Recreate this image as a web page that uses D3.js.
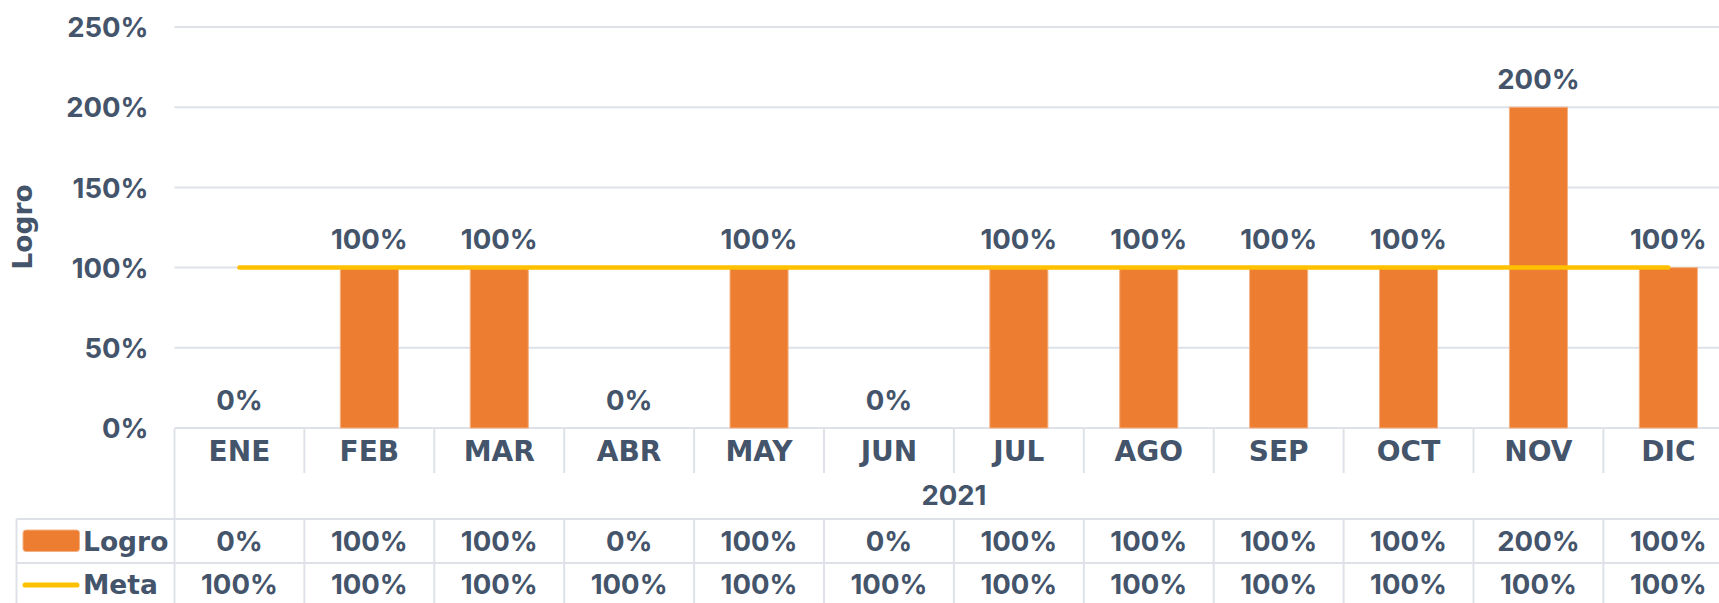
<!DOCTYPE html>
<html>
<head>
<meta charset="utf-8">
<script src="https://cdn.jsdelivr.net/npm/d3@7"></script>
<style>
  html, body { margin: 0; padding: 0; background: #fff; }
  svg { display: block; }
  text { font-weight: 700; fill: #44546A; }
  .num { font-family: Inter, "Open Sans", sans-serif; font-size: 27.5px; }
  .word { font-family: "DejaVu Sans", sans-serif; }
</style>
</head>
<body>
<svg id="chart" width="1719" height="603"></svg>
<script>
// Monthly achievement (Logro) against target (Meta), 2021
const months = ["ENE", "FEB", "MAR", "ABR", "MAY", "JUN", "JUL", "AGO", "SEP", "OCT", "NOV", "DIC"];
const logro = [0, 1, 1, 0, 1, 0, 1, 1, 1, 1, 2, 1];
const meta = [1, 1, 1, 1, 1, 1, 1, 1, 1, 1, 1, 1];
const yTicks = [0, 0.5, 1, 1.5, 2, 2.5];
const yearLabel = "2021";
const seriesNames = ["Logro", "Meta"];

const W = 1719, H = 603;
const plotLeft = 174.5, colW = 129.9;
const plotRight = plotLeft + colW * months.length;
const yTop = 27, yBottom = 428;

const colors = { bar: "#ED7D31", barEdge: "#F4B183", line: "#FFC000", grid: "#DEE2E8" };
const pct = d3.format(".0%");

const svg = d3.select("#chart");

const col = d3.scaleBand().domain(months).range([plotLeft, plotRight]).padding(0);
const barPad = 0.553;
const x = d3.scaleBand().domain(months).range([plotLeft, plotRight])
  .paddingInner(barPad).paddingOuter(barPad / 2);
const y = d3.scaleLinear().domain([0, 2.5]).range([yBottom, yTop]);
const cx = m => col(m) + col.bandwidth() / 2;

// tick labels
const yAxis = d3.axisLeft(y).tickValues(yTicks).tickFormat(pct).tickSize(0).tickPadding(0);
const gy = svg.append("g").attr("transform", `translate(148.5,0)`).call(yAxis);
gy.select(".domain").remove();
gy.attr("font-family", null).attr("font-size", null);
gy.selectAll("text").attr("class", "num").attr("dy", "0.35em");

// horizontal gridlines
svg.append("g").selectAll("line").data(yTicks).join("line")
  .attr("x1", plotLeft).attr("x2", W)
  .attr("y1", d => y(d)).attr("y2", d => y(d))
  .attr("stroke", colors.grid).attr("stroke-width", 2);

// axis title
svg.append("text").attr("class", "word")
  .attr("transform", `translate(23,227) rotate(-90)`)
  .attr("text-anchor", "middle").attr("dy", "0.35em")
  .attr("font-size", 26.5).text("Logro");

// bars
svg.append("g").selectAll("rect").data(months.map((m, i) => ({ m, v: logro[i] })).filter(d => d.v > 0))
  .join("rect")
  .attr("x", d => x(d.m)).attr("width", x.bandwidth())
  .attr("y", d => y(d.v)).attr("height", d => y(0) - y(d.v))
  .attr("fill", colors.bar).attr("stroke", colors.barEdge).attr("stroke-width", 1);

// target line
const lineGen = d3.line().x(d => cx(d.m)).y(d => y(d.v));
svg.append("path")
  .datum(months.map((m, i) => ({ m, v: meta[i] })))
  .attr("d", lineGen).attr("fill", "none")
  .attr("stroke", colors.line).attr("stroke-width", 4.5).attr("stroke-linecap", "round");

// value labels above bars
svg.append("g").selectAll("text").data(months.map((m, i) => ({ m, v: logro[i] })))
  .join("text").attr("class", "num")
  .attr("x", d => cx(d.m)).attr("y", d => y(d.v) - 28).attr("dy", "0.35em")
  .attr("text-anchor", "middle").text(d => pct(d.v));

// data table: grid
const gridG = svg.append("g").attr("stroke", colors.grid).attr("stroke-width", 2);
const catTop = yBottom + 1, catBottom = 473, row1 = 519, row2 = 563, row3 = 607;
const tableLeft = 16.5;
const seps = months.slice(1).map(m => col(m)).concat([plotRight]);
// category separators
gridG.selectAll("line.cat").data(seps).join("line").attr("class", "cat")
  .attr("x1", d => d).attr("x2", d => d).attr("y1", catTop).attr("y2", catBottom);
// table column separators
gridG.selectAll("line.tcol").data(seps).join("line").attr("class", "tcol")
  .attr("x1", d => d).attr("x2", d => d).attr("y1", row1).attr("y2", row3);
// left borders
gridG.append("line").attr("x1", plotLeft).attr("x2", plotLeft).attr("y1", catTop).attr("y2", row3);
gridG.append("line").attr("x1", tableLeft).attr("x2", tableLeft).attr("y1", row1).attr("y2", row3);
// row lines
[row1, row2, row3].forEach(r => gridG.append("line")
  .attr("x1", tableLeft).attr("x2", W).attr("y1", r).attr("y2", r));

// category labels
svg.append("g").selectAll("text").data(months).join("text").attr("class", "word")
  .attr("x", d => cx(d)).attr("y", 451).attr("dy", "0.36em")
  .attr("text-anchor", "middle").attr("font-size", 28).text(d => d);

// year label
svg.append("text").attr("class", "num").attr("x", (plotLeft + plotRight) / 2).attr("y", 495).attr("dy", "0.35em")
  .attr("text-anchor", "middle").text(yearLabel);

// legend keys in table
svg.append("rect").attr("x", 23).attr("y", 530).attr("width", 56.5).attr("height", 21.5)
  .attr("rx", 3).attr("fill", colors.bar).attr("stroke", colors.barEdge).attr("stroke-width", 1);
svg.append("line").attr("x1", 25).attr("x2", 77).attr("y1", 585).attr("y2", 585)
  .attr("stroke", colors.line).attr("stroke-width", 5).attr("stroke-linecap", "round");
svg.append("text").attr("class", "word").attr("x", 83).attr("y", 541.5).attr("dy", "0.36em")
  .attr("font-size", 26.5).text(seriesNames[0]);
svg.append("text").attr("class", "word").attr("x", 83).attr("y", 584).attr("dy", "0.36em")
  .attr("font-size", 26.5).text(seriesNames[1]);

// table values
const rows = [{ y: 541.5, vals: logro }, { y: 584, vals: meta }];
rows.forEach(r => {
  svg.append("g").selectAll("text").data(months.map((m, i) => ({ m, v: r.vals[i] })))
    .join("text").attr("class", "num")
    .attr("x", d => cx(d.m)).attr("y", r.y).attr("dy", "0.35em")
    .attr("text-anchor", "middle").text(d => pct(d.v));
});
</script>
</body>
</html>
